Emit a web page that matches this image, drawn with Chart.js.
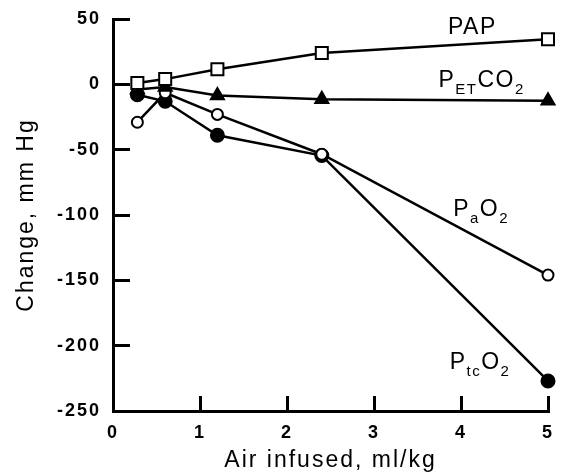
<!DOCTYPE html>
<html>
<head>
<meta charset="utf-8">
<script src="https://cdn.jsdelivr.net/npm/chart.js@4.4.1/dist/chart.umd.min.js"></script>
<style>
  html, body { margin: 0; padding: 0; background: #fff; }
  #wrap { width: 561px; height: 475px; position: relative; }
</style>
</head>
<body>
<div id="wrap"><canvas id="c" width="561" height="475"></canvas></div>
<script>
// ---- data ----
const xValues      = [0.28, 0.6, 1.2, 2.4, 5];
const papValues    = [1, 4, 11.5, 24, 34.5];
const petco2Values = [-4, -2, -8.5, -11.5, -12.5];
const pao2Values   = [-29, -6.5, -23, -53.5, -146];
const ptco2Values  = [-8, -13, -39, -54.5, -227];
const xTicks = [0, 1, 2, 3, 4, 5];
const yTicks = [50, 0, -50, -100, -150, -200, -250];

const toPts = ys => ys.map((y, i) => ({ x: xValues[i], y }));

// series labels: pieces [text, isSubscript], anchored in data coords
const seriesLabels = [
  { at: [3.85, 38.3],  parts: [['PAP', 0]] },
  { at: [3.74, -2.3],  parts: [['P', 0], ['ET', 1], ['CO', 0], ['2', 1]] },
  { at: [3.91, -101],  parts: [['P', 0], ['a', 1], ['O', 0], ['2', 1]] },
  { at: [3.87, -217.5],parts: [['P', 0], ['tc', 1], ['O', 0], ['2', 1]] }
];

const FONT = 'Arial, "Liberation Sans", Helvetica, sans-serif';

const spacingPlugin = {
  id: 'spacing',
  beforeDraw(chart) { chart.ctx.letterSpacing = '2px'; }
};

const labelPlugin = {
  id: 'seriesLabels',
  afterDraw(chart) {
    const ctx = chart.ctx;
    const xs = chart.scales.x, ys = chart.scales.y;
    ctx.save();
    ctx.letterSpacing = '1.5px';
    ctx.fillStyle = '#000';
    ctx.textBaseline = 'alphabetic';
    ctx.textAlign = 'left';
    seriesLabels.forEach(l => {
      let x = xs.getPixelForValue(l.at[0]);
      const y = ys.getPixelForValue(l.at[1]);
      l.parts.forEach(([t, sub]) => {
        ctx.font = sub ? '15px ' + FONT : '23px ' + FONT;
        ctx.fillText(t, x, sub ? y + 7 : y);
        x += ctx.measureText(t).width;
      });
    });
    ctx.restore();
  }
};

const common = { showLine: true, borderColor: '#000', borderWidth: 2.5, pointBorderWidth: 2,
                 pointBorderColor: '#000', tension: 0, clip: false };

// inward tick marks via negative tick length
const gridOpts = len => ({ display: true, drawOnChartArea: false, drawTicks: true,
  tickLength: -len, tickColor: '#000', tickWidth: 3, color: '#000', lineWidth: 3 });

new Chart(document.getElementById('c'), {
  type: 'scatter',
  data: {
    datasets: [
      Object.assign({ label: 'PAP', data: toPts(papValues), pointStyle: 'rect',
        pointRadius: 8.5, pointHoverRadius: 8.5, pointBackgroundColor: '#fff', order: 1 }, common),
      Object.assign({ label: 'PETCO2', data: toPts(petco2Values), pointStyle: 'triangle',
        pointRadius: 7.5, pointHoverRadius: 7.5, pointBackgroundColor: '#000', order: 2 }, common),
      Object.assign({ label: 'PaO2', data: toPts(pao2Values), pointStyle: 'circle',
        pointRadius: 5.5, pointHoverRadius: 5.5, pointBackgroundColor: '#fff', order: 3 }, common),
      Object.assign({ label: 'PtcO2', data: toPts(ptco2Values), pointStyle: 'circle',
        pointRadius: 6.5, pointHoverRadius: 6.5, pointBackgroundColor: '#000', order: 4 }, common)
    ]
  },
  options: {
    responsive: false,
    animation: false,
    devicePixelRatio: 1,
    layout: { padding: { top: 19, right: 13, left: 0, bottom: 0 } },
    plugins: { legend: { display: false }, tooltip: { enabled: false } },
    scales: {
      x: {
        type: 'linear', min: 0, max: 5,
        afterFit(s) { s.height = 64; s.paddingLeft = 0; s.paddingRight = 0; },
        afterBuildTicks(s) { s.ticks = xTicks.map(v => ({ value: v })); },
        grid: gridOpts(15),
        border: { display: true, color: '#000', width: 3 },
        ticks: { color: '#000', padding: 26, font: { family: FONT, size: 18, weight: 'bold' } },
        title: { display: true, text: 'Air infused, ml/kg', color: '#000',
                 padding: { top: 0, bottom: 1 }, font: { family: FONT, size: 23 } }
      },
      y: {
        type: 'linear', min: -250, max: 50,
        afterFit(s) { s.width = 113; s.paddingTop = 0; s.paddingBottom = 0; },
        afterBuildTicks(s) { s.ticks = yTicks.map(v => ({ value: v })); },
        grid: gridOpts(17),
        border: { display: true, color: '#000', width: 3 },
        ticks: { color: '#000', padding: 29, font: { family: FONT, size: 18, weight: 'bold' } },
        title: { display: true, text: 'Change, mm Hg', color: '#000',
                 padding: { top: 13, bottom: 0 }, font: { family: FONT, size: 23 } }
      }
    }
  },
  plugins: [spacingPlugin, labelPlugin]
});
</script>
</body>
</html>
